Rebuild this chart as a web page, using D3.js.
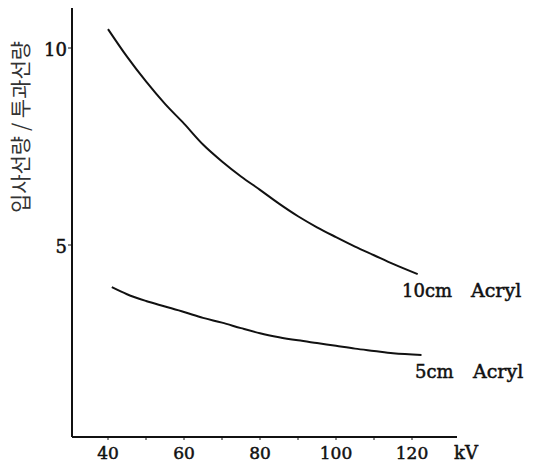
<!DOCTYPE html>
<html>
<head>
<meta charset="utf-8">
<script src="https://cdn.jsdelivr.net/npm/d3@7"></script>
<style>
  body { margin: 0; background: #fff; }
  text { font-family: "DejaVu Serif", "Liberation Serif", serif; fill: #111; }
  text.serif { stroke: #111; stroke-width: 0.5; }
</style>
</head>
<body>
<div id="chart"></div>
<script>
// data
var kv10 = [40, 45, 50, 55, 60, 65, 70, 75, 80, 85, 90, 95, 100, 105, 110, 115, 121.5];
var ratio10 = [10.48, 9.78, 9.15, 8.58, 8.08, 7.55, 7.12, 6.74, 6.40, 6.05, 5.73, 5.45, 5.20, 4.96, 4.74, 4.52, 4.26];
var kv5 = [41, 45, 50, 55, 60, 65, 70, 75, 80, 85, 90, 95, 100, 105, 110, 115, 122.5];
var ratio5 = [3.93, 3.75, 3.58, 3.44, 3.30, 3.15, 3.03, 2.89, 2.76, 2.66, 2.58, 2.51, 2.44, 2.37, 2.31, 2.25, 2.21];
var xTicks = [40, 60, 80, 100, 120];
var xMinorTicks = [50, 70, 90, 110];
var yTicks = [5, 10];

var svgWidth = 538;
var svgHeight = 468;

var svg = d3.select("#chart")
  .append("svg")
  .attr("width", svgWidth)
  .attr("height", svgHeight);

// scales
var xScale = d3.scaleLinear()
  .domain([40, 120])
  .range([108, 412]);

var yScale = d3.scaleLinear()
  .domain([5, 10])
  .range([245, 48]);

var axisLeftX = 72;
var axisBottomY = 437;
var axisTopY = 8;
var axisRightX = 457;

// axes lines
svg.append("line")
  .attr("x1", axisLeftX).attr("x2", axisLeftX)
  .attr("y1", axisTopY).attr("y2", axisBottomY)
  .attr("stroke", "#111").attr("stroke-width", 2);

svg.append("line")
  .attr("x1", axisLeftX).attr("x2", axisRightX)
  .attr("y1", axisBottomY).attr("y2", axisBottomY)
  .attr("stroke", "#111").attr("stroke-width", 2);

// x ticks
svg.selectAll(".xtick")
  .data(xTicks.concat(xMinorTicks))
  .enter()
  .append("line")
  .attr("x1", d => xScale(d)).attr("x2", d => xScale(d))
  .attr("y1", axisBottomY).attr("y2", axisBottomY + 3)
  .attr("stroke", "#111").attr("stroke-width", 1);

svg.selectAll(".xlabel")
  .data(xTicks)
  .enter()
  .append("text")
  .attr("class", "serif")
  .attr("x", d => xScale(d))
  .attr("y", 459)
  .attr("text-anchor", "middle")
  .attr("font-size", 17)
  .text(d => d);

svg.append("text")
  .attr("class", "serif")
  .attr("x", 466)
  .attr("y", 459)
  .attr("text-anchor", "middle")
  .attr("font-size", 18)
  .text("kV");

// y ticks
svg.selectAll(".ytick")
  .data(yTicks)
  .enter()
  .append("line")
  .attr("x1", axisLeftX - 4).attr("x2", axisLeftX)
  .attr("y1", d => yScale(d)).attr("y2", d => yScale(d))
  .attr("stroke", "#111").attr("stroke-width", 1);

svg.selectAll(".ylabel")
  .data(yTicks)
  .enter()
  .append("text")
  .attr("class", "serif")
  .attr("x", 67)
  .attr("y", d => yScale(d) + 8)
  .attr("text-anchor", "end")
  .attr("font-size", 18)
  .text(d => d);

// y axis title
svg.append("text")
  .attr("transform", "translate(28, 127) rotate(-90)")
  .attr("text-anchor", "middle")
  .attr("font-size", 21)
  .style("font-family", "'Noto Sans CJK KR', sans-serif")
  .style("fill", "#333")
  .text("입사선량 / 투과선량");

// curves
var line = d3.line()
  .x(d => xScale(d[0]))
  .y(d => yScale(d[1]))
  .curve(d3.curveMonotoneX);

svg.append("path")
  .datum(d3.zip(kv10, ratio10))
  .attr("d", line)
  .attr("fill", "none")
  .attr("stroke", "#111")
  .attr("stroke-width", 2);

svg.append("path")
  .datum(d3.zip(kv5, ratio5))
  .attr("d", line)
  .attr("fill", "none")
  .attr("stroke", "#111")
  .attr("stroke-width", 2);

// curve labels
svg.append("text").attr("class", "serif").attr("x", 402).attr("y", 297).attr("font-size", 18).text("10cm");
svg.append("text").attr("class", "serif").attr("x", 471).attr("y", 297).attr("font-size", 19).text("Acryl");
svg.append("text").attr("class", "serif").attr("x", 415).attr("y", 378).attr("font-size", 18).text("5cm");
svg.append("text").attr("class", "serif").attr("x", 473).attr("y", 378).attr("font-size", 19).text("Acryl");
</script>
</body>
</html>
